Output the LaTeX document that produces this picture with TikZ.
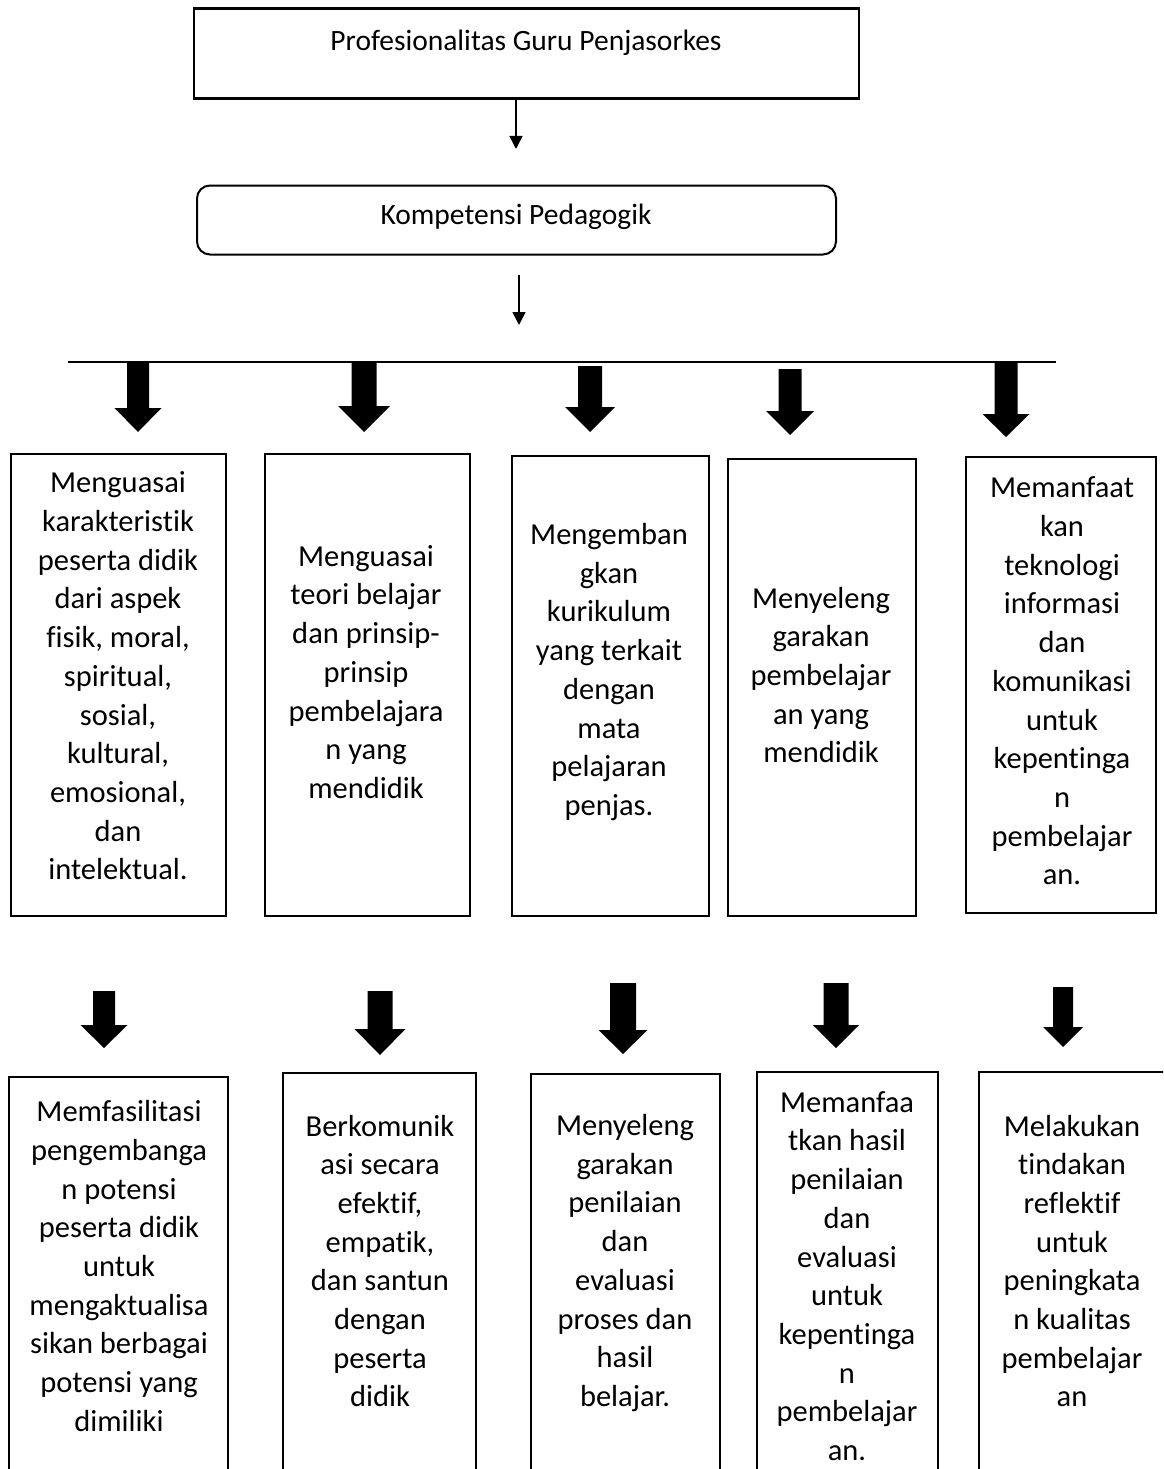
\documentclass[tikz,border=0pt]{standalone}
\usepackage{fontspec}
\setmainfont[Ligatures=NoCommon]{Carlito}
\usetikzlibrary{arrows.meta}
\newcommand\fatarrow[6]{%
  \fill (#1-#5/2,#2) -- (#1+#5/2,#2) -- (#1+#5/2,#3) -- (#1+#6/2,#3) -- (#1,#4)
        -- (#1-#6/2,#3) -- (#1-#5/2,#3) -- cycle;}
\begin{document}
\begin{tikzpicture}[x=1pt,y=-1pt,
  frame/.style={draw,line width=2.2pt},
  boxline/.style={line width=2pt},
  txt/.style={align=center,inner sep=0pt,font=\fontsize{30.5}{38.7}\selectfont},
  toptxt/.style={inner sep=0pt,font=\fontsize{29.5}{34}\selectfont},
  thinarrow/.style={line width=1.6pt,-{Triangle[width=13pt,length=13pt]}}]
\useasboundingbox (0,0) rectangle (1163,1469);
\clip (0,0) rectangle (1163,1469);
\fill[white] (0,0) rectangle (1163,1469);

% top box
\node[frame,minimum width=665pt,minimum height=90pt,anchor=north west,inner sep=0pt] (top) at (193,7.5) {};
\node[toptxt] (toplabel) at (526,43) {Profesionalitas Guru Penjasorkes};
\coordinate (a1s) at (516,100);
\coordinate (a1e) at (516,149);
\draw[thinarrow] (a1s) -- (a1e);

% rounded box
\node[frame,line width=2pt,rounded corners=13pt,minimum width=639pt,minimum height=69pt,anchor=north west,inner sep=0pt] (komp) at (196,184.5) {};
\node[toptxt] (komplabel) at (516,217) {Kompetensi Pedagogik};
\coordinate (a2s) at (519,275);
\coordinate (a2e) at (519,325);
\draw[thinarrow] (a2s) -- (a2e);

% horizontal line
\coordinate (hl) at (68,362);
\coordinate (hr) at (1056,362);
\draw[line width=1.5pt] (hl) -- (hr);

% first row fat arrows
\fatarrow{138}{361}{408}{432}{22}{47}
\fatarrow{364}{361}{406}{432}{25}{52}
\fatarrow{590}{366}{407}{432}{24}{50}
\fatarrow{790}{369}{411}{435}{23}{48}
\fatarrow{1006}{361}{414}{437}{23}{47}

% first row boxes
\node[frame,line width=2pt,minimum width=215pt,minimum height=462pt,anchor=north west,inner sep=0pt] (b1) at (10,452.5) {};
\node[frame,line width=2pt,minimum width=205pt,minimum height=462pt,anchor=north west,inner sep=0pt] (b2) at (264,452.5) {};
\node[frame,line width=2pt,minimum width=197pt,minimum height=460pt,anchor=north west,inner sep=0pt] (b3) at (511,454.5) {};
\node[frame,line width=2pt,minimum width=188pt,minimum height=457pt,anchor=north west,inner sep=0pt] (b4) at (727,457.5) {};
\node[frame,line width=2pt,minimum width=190pt,minimum height=456pt,anchor=north west,inner sep=0pt] (b5) at (965,456) {};

\node[txt] (t1) at (118,676) {Menguasai\\karakteristik\\peserta didik\\dari aspek\\fisik, moral,\\spiritual,\\sosial,\\kultural,\\emosional,\\dan\\intelektual.};
\node[txt] (t2) at (366,672) {Menguasai\\teori belajar\\dan prinsip-\\prinsip\\pembelajara\\n yang\\mendidik};
\node[txt] (t3) at (609,672) {Mengemban\\gkan\\kurikulum\\yang terkait\\dengan\\mata\\pelajaran\\penjas.};
\node[txt] (t4) at (821,675) {Menyeleng\\garakan\\pembelajar\\an yang\\mendidik};
\node[txt] (t5) at (1062,681) {Memanfaat\\kan\\teknologi\\informasi\\dan\\komunikasi\\untuk\\kepentinga\\n\\pembelajar\\an.};

% second row fat arrows
\fatarrow{104}{991}{1025}{1048}{22}{47}
\fatarrow{380}{991}{1029}{1055}{25}{51}
\fatarrow{623}{983}{1030}{1054}{26}{49}
\fatarrow{836}{983}{1025}{1048}{25}{46}
\fatarrow{1063}{987}{1027}{1047}{20}{40}

% second row boxes (open at the bottom edge of the picture)
\draw[boxline] (9,1480) |- (228,1077) -- (228,1480);
\draw[boxline] (283,1480) |- (476,1073) -- (476,1480);
\draw[boxline] (531,1480) |- (720,1074) -- (720,1480);
\draw[boxline] (757,1480) |- (938,1072) -- (938,1480);
\draw[boxline] (979,1480) |- (1175,1072) -- (1175,1480);

\node[txt] (u1) at (119,1266) {Memfasilitasi\\pengembanga\\n potensi\\peserta didik\\untuk\\mengaktualisa\\sikan berbagai\\potensi yang\\dimiliki};
\node[txt] (u2) at (380,1261) {Berkomunik\\asi secara\\efektif,\\empatik,\\dan santun\\dengan\\peserta\\didik};
\node[txt] (u3) at (625,1263) {Menyeleng\\garakan\\penilaian\\dan\\evaluasi\\proses dan\\hasil\\belajar.};
\node[txt] (u4) at (847,1276) {Memanfaa\\tkan hasil\\penilaian\\dan\\evaluasi\\untuk\\kepentinga\\n\\pembelajar\\an.};
\node[txt] (u5) at (1072,1261) {Melakukan\\tindakan\\reflektif\\untuk\\peningkata\\n kualitas\\pembelajar\\an};
\end{tikzpicture}
\end{document}
